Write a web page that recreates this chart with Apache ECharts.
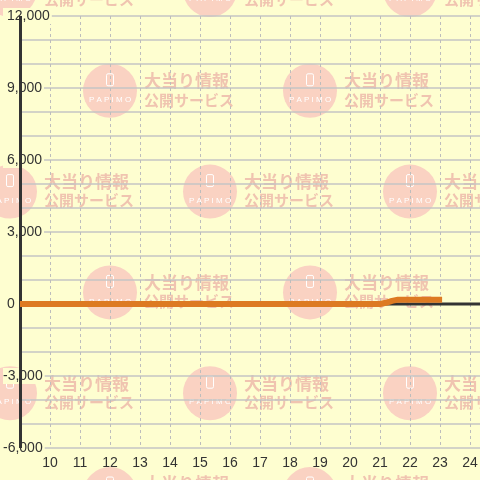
<!DOCTYPE html>
<html><head><meta charset="utf-8">
<script src="https://cdn.jsdelivr.net/npm/echarts@6/dist/echarts.min.js"></script>
<style>html,body{margin:0;padding:0;background:#fefed0}#c{width:480px;height:480px}</style>
</head><body><div id="c"></div>
<script>
// data
const hourTicks = [10,11,12,13,14,15,16,17,18,19,20,21,22,23,24];
const yTicks = [-6000,-3000,0,3000,6000,9000,12000];
const lineX = [9, 21, 21.2, 21.4, 21.6, 23.07];
const lineY = [0, 0, 50, 130, 180, 180];
const zeroX = [9, 25];
const zeroY = [0, 0];

const BG = '#fefed0';
const FONT = '"Liberation Sans", Arial, sans-serif';

// watermark decoration
const wm = [];
for (let r = 0; r < 6; r++) {
  const cy = -10 + r * 100.8;
  const xs = (r % 2 === 0) ? [10, 210, 410] : [110, 310, 510];
  xs.forEach(cx => {
    wm.push({type:'circle', z:-5, silent:true, shape:{cx:cx, cy:cy, r:27}, style:{fill:'#fad2c2'}});
    wm.push({type:'rect', z:-4, silent:true, shape:{x:cx-3.5, y:cy-17, width:7, height:12, r:1.5}, style:{fill:'none', stroke:'#ffffff', lineWidth:1}});
    wm.push({type:'text', z:-4, silent:true, x:cx, y:cy+9, style:{text:'P A P I M O', fill:'#ffffff', font:'8px ' + FONT, align:'center', verticalAlign:'middle', textAlign:'center', textVerticalAlign:'middle'}});
    wm.push({type:'text', z:-4, silent:true, x:cx+34, y:cy-10, style:{text:'大当り情報', fill:'#f0c4b0', font:'bold 17px "Noto Sans CJK JP"', textVerticalAlign:'middle', verticalAlign:'middle'}});
    wm.push({type:'text', z:-4, silent:true, x:cx+34, y:cy+9, style:{text:'公開サービス', fill:'#f0c4b0', font:'bold 15px "Noto Sans CJK JP"', textVerticalAlign:'middle', verticalAlign:'middle'}});
  });
}

const chart = echarts.init(document.getElementById('c'), null, {renderer:'canvas'});
chart.setOption({
  backgroundColor: BG,
  animation: false,
  graphic: {elements: wm},
  grid: {left:20, top:16, width:480, height:432, containLabel:false, outerBoundsMode:'none'},
  xAxis: {
    type:'value', min:9, max:25, interval:1,
    axisLine:{show:false}, axisTick:{show:false},
    axisLabel:{
      margin:8, color:'#333', fontSize:14, fontFamily:FONT,
      formatter: v => hourTicks.includes(v) ? String(v) : ''
    },
    splitLine:{show:true, lineStyle:{color:'#bdbdbd', type:[3,3], width:1}}
  },
  yAxis: {
    type:'value', min:-6000, max:12000, interval:1000,
    axisLine:{show:false}, axisTick:{show:false},
    axisLabel:{
      inside:false, align:'left', margin:17, color:'#333', fontSize:14, fontFamily:FONT,
      formatter: v => {
        if (!yTicks.includes(v)) return '';
        const s = v.toLocaleString('en-US');
        return v < 0 ? '{n|' + s + '}' : '{p|' + s + '}';
      },
      rich:{
        p:{fontSize:14, color:'#333', fontFamily:FONT, backgroundColor:BG, padding:[1,2,1,4]},
        n:{fontSize:14, color:'#333', fontFamily:FONT, backgroundColor:BG, padding:[1,2,1,0]}
      }
    },
    splitLine:{show:true, lineStyle:{color:'#c4c4c4', width:1.5}}
  },
  series: [
    {
      type:'line', z:3, silent:true, showSymbol:false,
      data: zeroX.map((x,i)=>[x, zeroY[i]]),
      lineStyle:{color:'#333333', width:3},
      markLine:{
        silent:true, symbol:'none', label:{show:false},
        lineStyle:{color:'#333333', width:3, type:'solid'},
        data:[{xAxis:9}]
      }
    },
    {
      type:'line', z:8, silent:true, showSymbol:false, smooth:false,
      data: lineX.map((x,i)=>[x, lineY[i]]),
      lineStyle:{color:'#dd7a22', width:6}
    }
  ]
});
</script></body></html>
